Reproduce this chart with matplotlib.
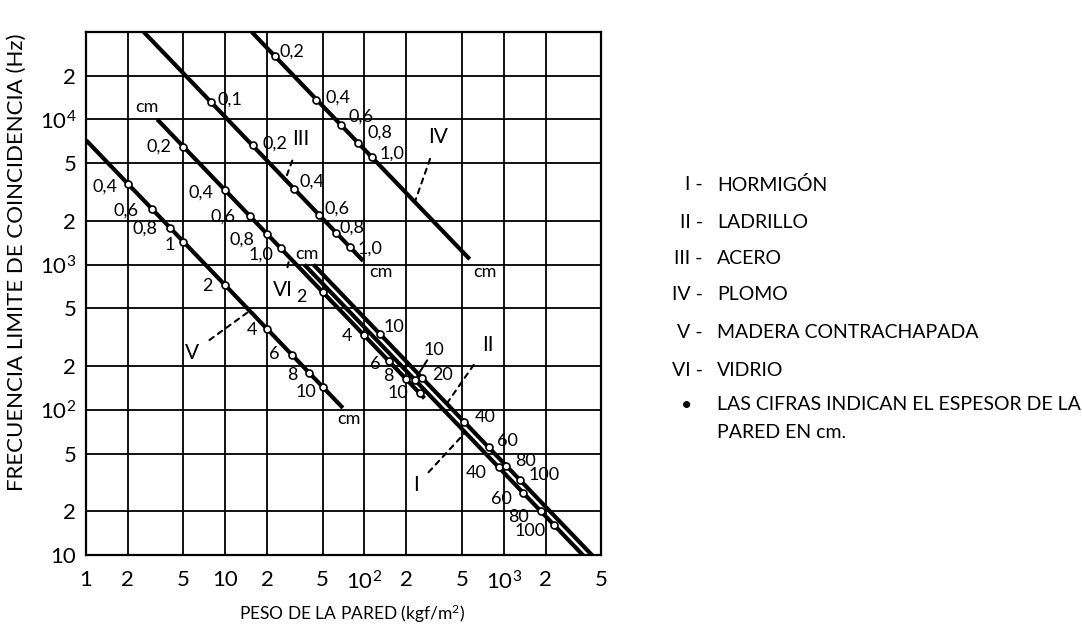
import numpy as np
import matplotlib.pyplot as plt

plt.rcParams['font.family'] = ['Lato', 'DejaVu Sans']
plt.rcParams['mathtext.fontset'] = 'custom'
plt.rcParams['mathtext.rm'] = 'Lato'
plt.rcParams['mathtext.it'] = 'Lato:italic'
plt.rcParams['mathtext.bf'] = 'Lato:bold'

# Ejes: peso de la pared (kgf/m2) y frecuencia límite de coincidencia (Hz)
x_ticks = [1, 2, 5, 10, 20, 50, 100, 200, 500, 1000, 2000, 5000]
x_tick_labels = ['1', '2', '5', '10', '2', '5', r'$10^2$', '2', '5', r'$10^3$', '2', '5']
y_ticks = [10, 20, 50, 100, 200, 500, 1000, 2000, 5000, 10000, 20000]
y_tick_labels = ['10', '2', '5', r'$10^2$', '2', '5', r'$10^3$', '2', '5', r'$10^4$', '2']

# I - hormigón
horm_esp = ['10', '40', '60', '80', '100']
horm_peso = [230, 920, 1380, 1840, 2300]
horm_freq = [161, 40.2, 26.8, 20.1, 16.1]
horm_linea_peso = [37, 5000]
horm_linea_freq = [1000, 7.4]

# II - ladrillo
ladr_esp = ['10', '20', '40', '60', '80', '100']
ladr_peso = [130, 260, 520, 780, 1040, 1300]
ladr_freq = [331, 165, 82.7, 55.1, 41.3, 33.1]
ladr_linea_peso = [43, 5000]
ladr_linea_freq = [1000, 8.6]

# III - acero
acero_esp = ['0,1', '0,2', '0,4', '0,6', '0,8', '1,0']
acero_peso = [7.85, 15.7, 31.4, 47.1, 62.8, 78.5]
acero_freq = [13200, 6620, 3310, 2210, 1660, 1320]
acero_linea_peso = [2.6, 98]
acero_linea_freq = [40000, 1060]

# IV - plomo
plomo_esp = ['0,2', '0,4', '0,6', '0,8', '1,0']
plomo_peso = [22.6, 45.2, 67.8, 90.4, 113]
plomo_freq = [27400, 13700, 9150, 6860, 5490]
plomo_linea_peso = [15.5, 570]
plomo_linea_freq = [40000, 1090]

# V - madera contrachapada
madera_esp = ['0,4', '0,6', '0,8', '1', '2', '4', '6', '8', '10']
madera_peso = [2, 3, 4, 5, 10, 20, 30, 40, 50]
madera_freq = [3600, 2400, 1800, 1440, 720, 360, 240, 180, 144]
madera_linea_peso = [1, 70]
madera_linea_freq = [7200, 103]

# VI - vidrio
vidrio_esp = ['0,2', '0,4', '0,6', '0,8', '1,0', '2', '4', '6', '8', '10']
vidrio_peso = [5, 10, 15, 20, 25, 50, 100, 150, 200, 250]
vidrio_freq = [6500, 3250, 2170, 1630, 1300, 650, 325, 217, 163, 130]
vidrio_linea_peso = [3.25, 270]
vidrio_linea_freq = [10000, 120]

materiales = ['HORMIGÓN', 'LADRILLO', 'ACERO', 'PLOMO', 'MADERA CONTRACHAPADA', 'VIDRIO']
romanos = ['I', 'II', 'III', 'IV', 'V', 'VI']

# desplazamiento (px) de cada cifra respecto a su punto
horm_off = [(19, 30), (-22, -6), (-22, -6), (-22, -6), (-24, -6)]
ladr_off = [(14, 7), (20, 3), (21, 5), (19, 6), (19, 5), (25, 5)]
acero_off = [(19, 2), (22, 2), (18, 8), (18, 6), (16, 5), (20, -2)]
plomo_off = [(17, 4), (22, 2), (20, 8), (22, 11), (20, 4)]
madera_off = [(-23, -3), (-26, -1), (-25, -1), (-14, -3), (-18, -1),
              (-15, -1), (-17, 1), (-17, -2), (-17, -5)]
vidrio_off = [(-24, 0), (-24, -2), (-27, -1), (-25, -6), (-20, -7),
              (-21, -5), (-17, -1), (-14, -3), (-18, 3), (-22, 0)]

series = [
    (horm_linea_peso, horm_linea_freq, horm_peso, horm_freq, horm_esp, horm_off),
    (ladr_linea_peso, ladr_linea_freq, ladr_peso, ladr_freq, ladr_esp, ladr_off),
    (acero_linea_peso, acero_linea_freq, acero_peso, acero_freq, acero_esp, acero_off),
    (plomo_linea_peso, plomo_linea_freq, plomo_peso, plomo_freq, plomo_esp, plomo_off),
    (madera_linea_peso, madera_linea_freq, madera_peso, madera_freq, madera_esp, madera_off),
    (vidrio_linea_peso, vidrio_linea_freq, vidrio_peso, vidrio_freq, vidrio_esp, vidrio_off),
]

W, H = 1082, 632
fig = plt.figure(figsize=(W / 100, H / 100), dpi=100)
ax = fig.add_axes([86 / W, 1 - 555 / H, (601 - 86) / W, (555 - 32) / H])
ax.set_xscale('log')
ax.set_yscale('log')
ax.set_xlim(1, 5000)
ax.set_ylim(10, 40000)
ax.set_xticks(x_ticks)
ax.set_xticklabels(x_tick_labels)
ax.set_yticks(y_ticks)
ax.set_yticklabels(y_tick_labels)
ax.minorticks_off()
ax.tick_params(length=0, labelsize=16, pad=7)
ax.tick_params(axis='x', pad=11)
ax.grid(True, color='black', lw=1.3)
for s in ax.spines.values():
    s.set_linewidth(1.6)

for lp, lf, p, f, esp, off in series:
    ax.plot(lp, lf, color='black', lw=3, solid_capstyle='butt', zorder=3)
    ax.plot(p, f, 'o', ms=5, mfc='white', mec='black', mew=1.2, zorder=4)
    for pi, fi, t, o in zip(p, f, esp, off):
        ax.annotate(t, (pi, fi), xytext=o, textcoords='offset pixels',
                    ha='center', va='center', fontsize=13, zorder=5)

# flecha de la cifra 10 del hormigón
ax.annotate('', (horm_peso[0], horm_freq[0]), xytext=horm_off[0], textcoords='offset pixels',
            arrowprops=dict(arrowstyle='-', lw=1.5, color='black', shrinkA=9, shrinkB=3))


def punto_en_linea(lp, lf, peso):
    return peso, 10 ** np.interp(np.log10(peso), np.log10(lp), np.log10(lf))


# números romanos con línea de trazos hacia cada recta
llamadas = [
    ('I', horm_linea_peso, horm_linea_freq, 530, (-49, -53)),
    ('II', ladr_linea_peso, ladr_linea_freq, 390, (41, 59)),
    ('III', acero_linea_peso, acero_linea_freq, 27, (15, 41)),
    ('IV', plomo_linea_peso, plomo_linea_freq, 230, (23, 65)),
    ('V', madera_linea_peso, madera_linea_freq, 15, (-58, -42)),
    ('VI', vidrio_linea_peso, vidrio_linea_freq, 29, (-7, -32)),
]
for txt, lp, lf, peso, off in llamadas:
    ax.annotate(txt, punto_en_linea(lp, lf, peso), xytext=off, textcoords='offset pixels',
                ha='center', va='center', fontsize=15, zorder=5,
                arrowprops=dict(arrowstyle='-', lw=1.5, color='black',
                                linestyle=(0, (2.5, 2.5)), shrinkA=7, shrinkB=1))

# unidades al extremo de las rectas
unidades = [
    (vidrio_linea_peso[0], vidrio_linea_freq[0], (-10, 12)),
    (vidrio_peso[4], vidrio_freq[4], (26, -6)),
    (acero_linea_peso[1], acero_linea_freq[1], (18, -11)),
    (plomo_linea_peso[1], plomo_linea_freq[1], (15, -13)),
    (madera_linea_peso[1], madera_linea_freq[1], (6, -11)),
]
for px, py, off in unidades:
    ax.annotate('cm', (px, py), xytext=off, textcoords='offset pixels',
                ha='center', va='center', fontsize=13, zorder=5)

fig.text(17 / W, 1 - 262 / H, 'FRECUENCIA LIMITE DE COINCIDENCIA (Hz)', rotation=90,
         ha='center', va='center', fontsize=16)
fig.text(352 / W, 1 - 614 / H, 'PESO DE LA PARED (kgf/m$^2$)',
         ha='center', va='center', fontsize=12.5)

# leyenda de materiales
filas = [185, 222, 258, 295, 333, 370]
for r, m, y in zip(romanos, materiales, filas):
    fig.text(703 / W, 1 - y / H, r + ' -', ha='right', va='center', fontsize=14)
    fig.text(717 / W, 1 - y / H, m, ha='left', va='center', fontsize=14)
fig.text(687 / W, 1 - 405 / H, '•', ha='center', va='center', fontsize=14)
fig.text(717 / W, 1 - 405 / H, 'LAS CIFRAS INDICAN EL ESPESOR DE LA', ha='left', va='center', fontsize=14)
fig.text(717 / W, 1 - 432 / H, 'PARED EN cm.', ha='left', va='center', fontsize=14)

fig.savefig('out.png', dpi=100)
